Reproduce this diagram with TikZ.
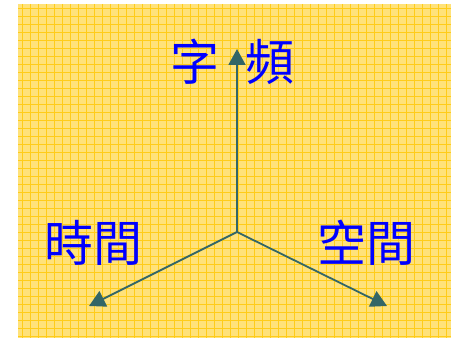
\documentclass[tikz,border=0pt]{standalone}
\usepackage{fontspec}
\newfontfamily\cjk{Noto Sans CJK TC}
\usetikzlibrary{arrows.meta}
\definecolor{bgfill}{HTML}{FFE27A}
\definecolor{bgline}{HTML}{FFCC1A}
\definecolor{arrowcol}{HTML}{336666}
\definecolor{txtblue}{HTML}{0000FF}
\begin{document}
\begin{tikzpicture}[x=1pt,y=-1pt,
  axis/.style={draw=arrowcol,line width=1.8pt,-{Triangle[length=16pt,width=17pt]}},
  label/.style={text=txtblue,font=\cjk\fontsize{49}{52}\selectfont,inner sep=0pt}]
\useasboundingbox (0,0) rectangle (455,339);
\fill[white] (0,0) rectangle (455,339);
\fill[bgfill] (18,4) rectangle (451,338);
\begin{scope}
\clip (18,4) rectangle (451,338);
\foreach \x in {22,30,...,450} \draw[bgline,line width=0.9pt] (\x,4) -- (\x,338);
\foreach \y in {8,16,...,338} \draw[bgline,line width=0.9pt] (18,\y) -- (451,\y);
\end{scope}
\coordinate (o) at (237,232);
\coordinate (top) at (237,49);
\coordinate (left) at (89,306);
\coordinate (right) at (387,306);
\draw[axis] (o) -- (top);
\draw[axis] (o) -- (left);
\draw[axis] (o) -- (right);
\node[label] (zi) at (195,62) {字};
\node[label] (pin) at (270,62) {頻};
\node[label] (shijian) at (93,243) {時間};
\node[label] (kongjian) at (366,243) {空間};
\end{tikzpicture}
\end{document}
